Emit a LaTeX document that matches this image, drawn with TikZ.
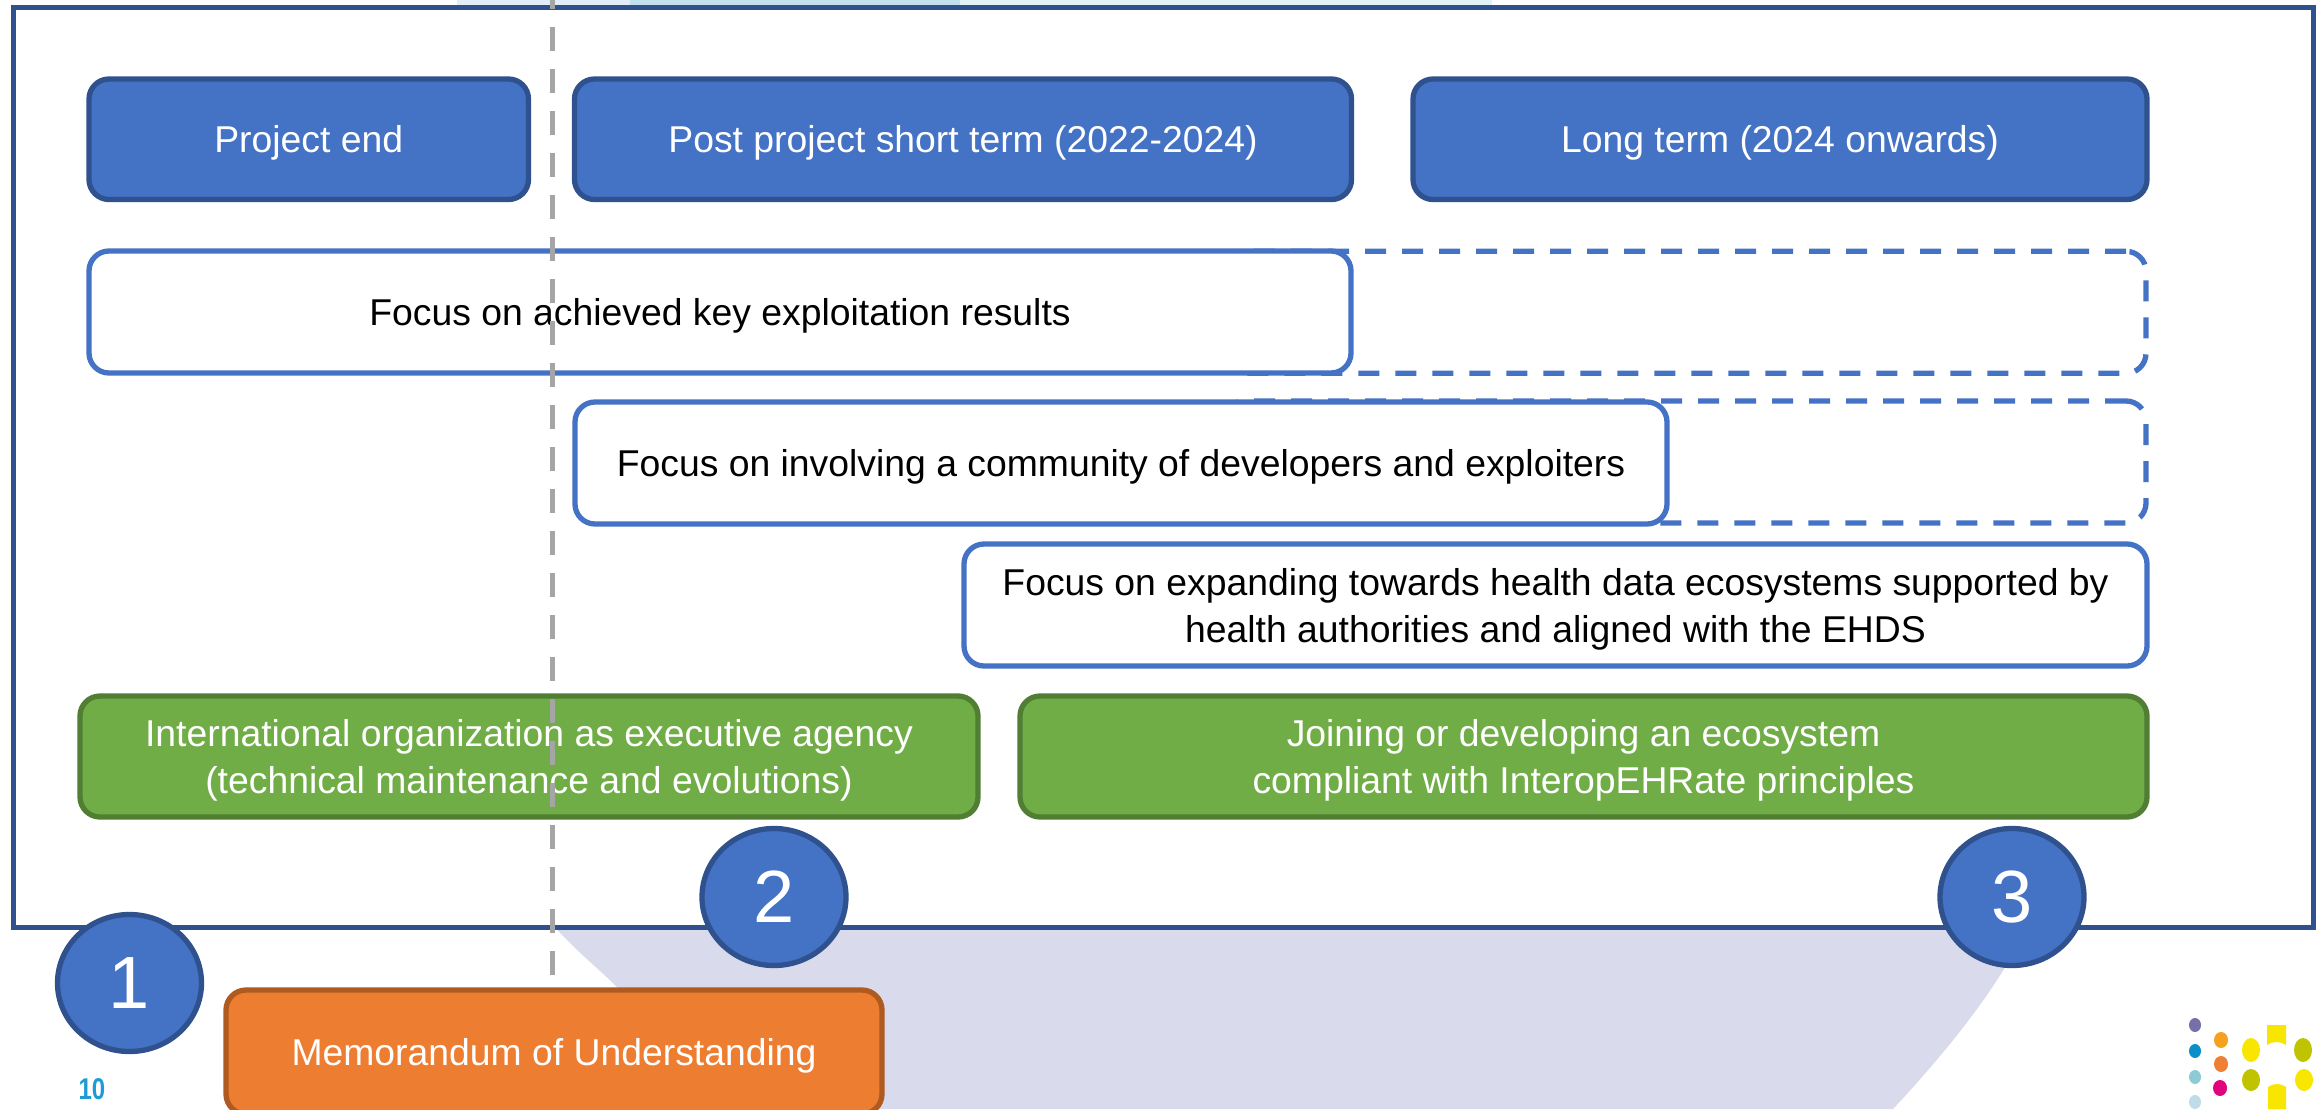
\documentclass[tikz,border=0pt]{standalone}
\usepackage{fontspec}
\usetikzlibrary{shapes.geometric}
\setmainfont{Liberation Sans}
\definecolor{fillblue}{HTML}{4472C4}
\definecolor{edgeblue}{HTML}{2F528F}
\definecolor{fillgreen}{HTML}{70AD47}
\definecolor{edgegreen}{HTML}{507E32}
\definecolor{fillorange}{HTML}{ED7D31}
\definecolor{edgeorange}{HTML}{AE5A21}
\definecolor{lavender}{HTML}{D9DAEC}
\definecolor{pagenum}{HTML}{1E9BD7}
\definecolor{guide}{HTML}{A5A5A5}
\definecolor{topa}{HTML}{E3EDF8}
\definecolor{topb}{HTML}{C3E0EE}
\definecolor{topc}{HTML}{E1F3F6}
\definecolor{lgpurple}{HTML}{7570A8}
\definecolor{lgblue}{HTML}{0A8FC8}
\definecolor{lgteal}{HTML}{8CCBD4}
\definecolor{lgpale}{HTML}{BFDDE8}
\definecolor{lgamber}{HTML}{F5A01E}
\definecolor{lgorange}{HTML}{EE7F35}
\definecolor{lgpink}{HTML}{E0057F}
\definecolor{lgyellow}{HTML}{F8E600}
\definecolor{lgolive}{HTML}{BFC300}
\newcommand{\tl}{\rule[-10pt]{0pt}{47.4pt}}
\tikzset{
  base/.style={rounded corners=20pt,line width=5.3pt,inner sep=0pt,align=center,font=\fontsize{37.33}{47.4}\selectfont},
  headbox/.style={base,draw=edgeblue,fill=fillblue,text=white},
  focusbox/.style={base,draw=fillblue,fill=white,text=black},
  dashbox/.style={base,draw=fillblue,dash pattern=on 21pt off 16pt},
  greenbox/.style={base,draw=edgegreen,fill=fillgreen,text=white},
  orangebox/.style={base,draw=edgeorange,fill=fillorange,text=white},
  numdisc/.style={ellipse,draw=edgeblue,fill=fillblue,text=white,line width=5.3pt,inner sep=0pt,minimum width=144pt,minimum height=137pt,font=\fontsize{74}{74}\selectfont}
}
\begin{document}
\begin{tikzpicture}[x=1pt,y=-1pt]
\useasboundingbox (0,0) rectangle (2323,1109);
\clip (0,0) rectangle (2323,1109);
\fill[white] (0,0) rectangle (2323,1109);
% background pieces
\fill[lavender] (553,925) .. controls (575,950) and (600,970) .. (617,987)
  -- (720,1109) -- (1893,1109)
  .. controls (1935,1064) and (1985,1005) .. (2015,950) -- (2020,925) -- cycle;
\fill[topa] (457,0) rectangle (630,6);
\fill[topb] (630,0) rectangle (960,6);
\fill[topc] (960,0) rectangle (1492,6);
% frame
\node[draw=edgeblue,fill=white,line width=5pt,inner sep=0pt,minimum width=2300pt,minimum height=920.5pt] (frame) at (1163,467.25) {};
% header boxes
\node[headbox,minimum width=439.5pt,minimum height=120.5pt] (end) at (308.75,139.25) {\tl Project end};
\node[headbox,minimum width=777pt,minimum height=120.5pt] (short) at (963,139.25) {\tl Post project short term (2022-2024)};
\node[headbox,minimum width=734pt,minimum height=120.5pt] (long) at (1780,139.25) {\tl Long term (2024 onwards)};
% dashed extensions
\node[dashbox,minimum width=925pt,minimum height=122pt] (extone) at (1683.5,312.3) {};
\node[dashbox,minimum width=922pt,minimum height=122pt] (exttwo) at (1685,462) {};
% focus boxes
\node[focusbox,minimum width=1262pt,minimum height=122pt] (fone) at (720,312) {\tl Focus on achieved key exploitation results};
\node[focusbox,minimum width=1092pt,minimum height=122pt] (ftwo) at (1121,463) {\tl Focus on involving a community of developers and exploiters};
\node[focusbox,minimum width=1183pt,minimum height=122pt] (fthree) at (1555.5,605) {\tl Focus on expanding towards health data ecosystems supported by\\\tl health authorities and aligned with the EHDS};
% green boxes
\node[greenbox,minimum width=898pt,minimum height=121pt] (gone) at (529,756.5) {\tl International organization as executive agency\\\tl (technical maintenance and evolutions)};
\node[greenbox,minimum width=1127pt,minimum height=121pt] (gtwo) at (1583.5,756.5) {\tl Joining or developing an ecosystem\\\tl compliant with InteropEHRate principles};
% guide line
\coordinate (guidetop) at (552,-15);
\coordinate (guidebot) at (552,975);
\draw[guide,line width=5pt,dash pattern=on 24pt off 18pt] (guidetop) -- (guidebot);
% numbered discs
\node[numdisc] (none) at (129.5,983) {1};
\node[numdisc] (ntwo) at (774,897) {2};
\node[numdisc] (nthree) at (2012,897) {3};
% orange box
\node[orangebox,minimum width=656pt,minimum height=124pt] (mou) at (554,1052) {\tl Memorandum of Understanding};
% page number
\node[text=pagenum,inner sep=0pt,font=\fontsize{30}{30}\selectfont\bfseries] (pg) at (92,1089) {\scalebox{.8}[1]{10}};
% logo
\fill[lgpurple] (2195,1025) ellipse (6pt and 7pt);
\fill[lgblue] (2195,1051) ellipse (6pt and 7pt);
\fill[lgteal] (2195,1077) ellipse (6pt and 7pt);
\fill[lgpale] (2195,1102) ellipse (6pt and 7pt);
\fill[lgamber] (2221,1040) ellipse (7pt and 8pt);
\fill[lgorange] (2221,1064) ellipse (7pt and 8pt);
\fill[lgpink] (2220,1088) ellipse (7pt and 8pt);
\fill[lgyellow] (2251,1050) ellipse (9pt and 12pt);
\fill[lgolive] (2251,1080) ellipse (9pt and 11pt);
\fill[lgolive] (2303,1050) ellipse (9pt and 12pt);
\fill[lgyellow] (2304,1080) ellipse (9pt and 11pt);
\fill[lgyellow] (2267,1025) -- (2286,1025) -- (2286,1045) .. controls (2280,1041) and (2273,1041) .. (2267,1045) -- cycle;
\fill[lgyellow] (2268,1087) .. controls (2273,1083) and (2281,1083) .. (2286,1087) -- (2286,1109) -- (2268,1109) -- cycle;
\end{tikzpicture}
\end{document}
